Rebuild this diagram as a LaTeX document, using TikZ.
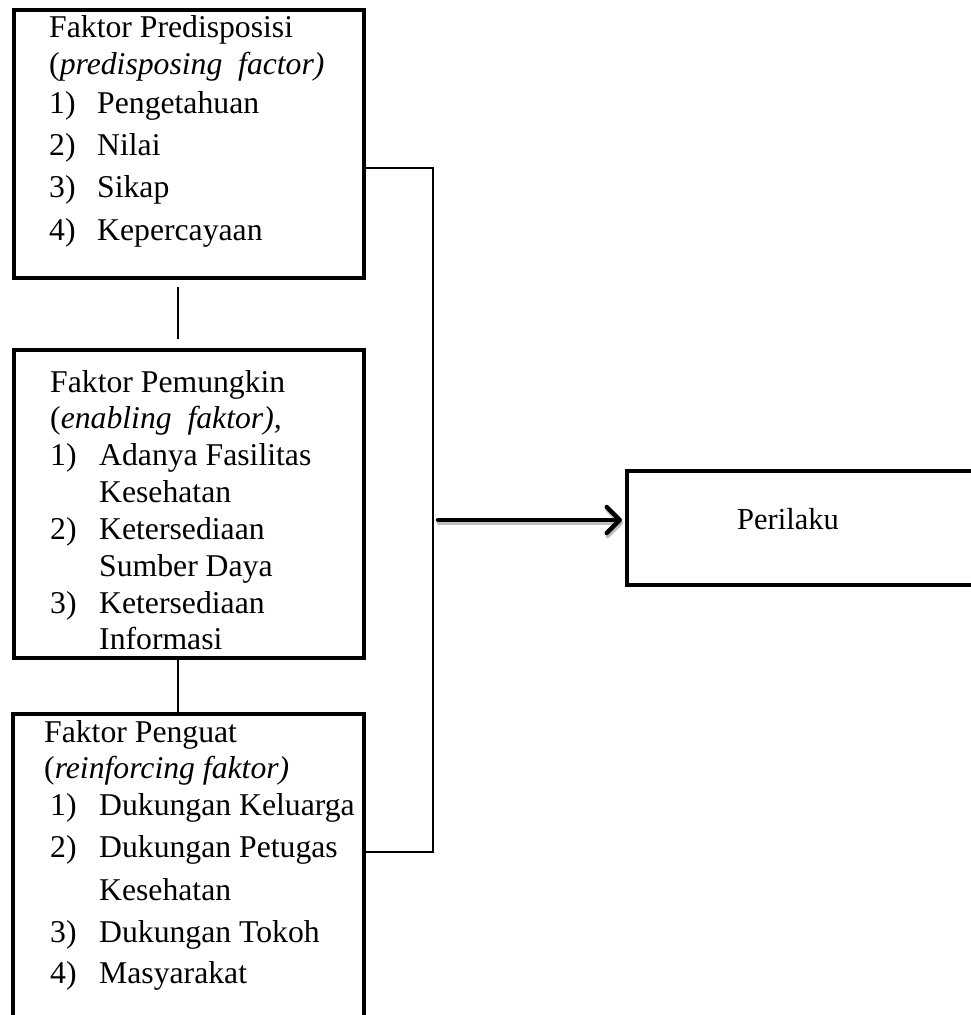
\documentclass[tikz,border=0pt]{standalone}
\usepackage{fontspec}
\setmainfont{Liberation Serif}
\usetikzlibrary{arrows.meta}
\begin{document}
\begin{tikzpicture}[x=1pt,y=-1pt,
  box/.style={draw, line width=3.5pt, inner sep=0pt, anchor=north west},
  txt/.style={anchor=base west, inner sep=0pt, font=\fontsize{31.7}{38}\selectfont},
  conn/.style={line width=1.8pt},
  arr/.style={line width=4.5pt, line cap=round, -{Straight Barb[length=13pt,width=26pt,line width=4.5pt,round]}},
  shadowarr/.style={arr, draw=black!25}]
\useasboundingbox (0,0) rectangle (971,1015);
\clip (0,0) rectangle (971,1015);
% boxes
\node[box, minimum width=350pt, minimum height=268pt] (b1) at (12,8) {};
\node[box, minimum width=350pt, minimum height=308pt] (b2) at (12,348) {};
\node[box, minimum width=351pt, minimum height=340pt] (b3) at (11,712) {};
\node[box, minimum width=425pt, minimum height=114pt] (b4) at (625,469) {};
% box 1 text
\node[txt] (t1a) at (49,37) {Faktor Predisposisi};
\node[txt] (t1b) at (49,74) {(\textit{predisposing\ \ factor)}};
\node[txt] (t1c) at (49,113) {1)};
\node[txt] (t1d) at (97,113) {Pengetahuan};
\node[txt] (t1e) at (49,155) {2)};
\node[txt] (t1f) at (97,155) {Nilai};
\node[txt] (t1g) at (49,197) {3)};
\node[txt] (t1h) at (97,197) {Sikap};
\node[txt] (t1i) at (49,240) {4)};
\node[txt] (t1j) at (97,240) {Kepercayaan};
% box 2 text
\node[txt] (t2a) at (50,392) {Faktor Pemungkin};
\node[txt] (t2b) at (50,428) {(\textit{enabling\ \ faktor),}};
\node[txt] (t2c) at (50,465) {1)};
\node[txt] (t2d) at (99,465) {Adanya Fasilitas};
\node[txt] (t2e) at (99,502) {Kesehatan};
\node[txt] (t2f) at (50,539) {2)};
\node[txt] (t2g) at (99,539) {Ketersediaan};
\node[txt] (t2h) at (99,576) {Sumber Daya};
\node[txt] (t2i) at (50,613) {3)};
\node[txt] (t2j) at (99,613) {Ketersediaan};
\node[txt] (t2k) at (99,649) {Informasi};
% box 3 text
\node[txt] (t3a) at (44,742) {Faktor Penguat};
\node[txt] (t3b) at (44,778) {(\textit{reinforcing faktor)}};
\node[txt] (t3c) at (50,815) {1)};
\node[txt] (t3d) at (99,815) {Dukungan Keluarga};
\node[txt] (t3e) at (50,857) {2)};
\node[txt] (t3f) at (99,857) {Dukungan Petugas};
\node[txt] (t3g) at (99,900) {Kesehatan};
\node[txt] (t3h) at (50,942) {3)};
\node[txt] (t3i) at (99,942) {Dukungan Tokoh};
\node[txt] (t3j) at (50,983) {4)};
\node[txt] (t3k) at (99,983) {Masyarakat};
% box 4 text
\node[txt, anchor=base, font=\fontsize{30.5}{36}\selectfont] (t4) at (788,529) {Perilaku};
% connectors
\coordinate (cx) at (178,0);
\draw[conn, shorten <=7pt, shorten >=9pt] (b1.south -| cx) -- (b2.north -| cx);
\draw[conn] (b2.south -| cx) -- (b3.north -| cx);
\coordinate (bt) at (433,168);
\coordinate (bb) at (433,852);
\draw[conn] (b1.east |- bt) -- (bt) -- (bb) -- (b3.east |- bb);
% arrow
\coordinate (as) at (438,520);
\draw[shadowarr, transform canvas={xshift=1pt,yshift=-3pt}] (as) -- ([xshift=-3pt]b4.west |- as);
\draw[arr] (as) -- ([xshift=-3pt]b4.west |- as);
\end{tikzpicture}
\end{document}
